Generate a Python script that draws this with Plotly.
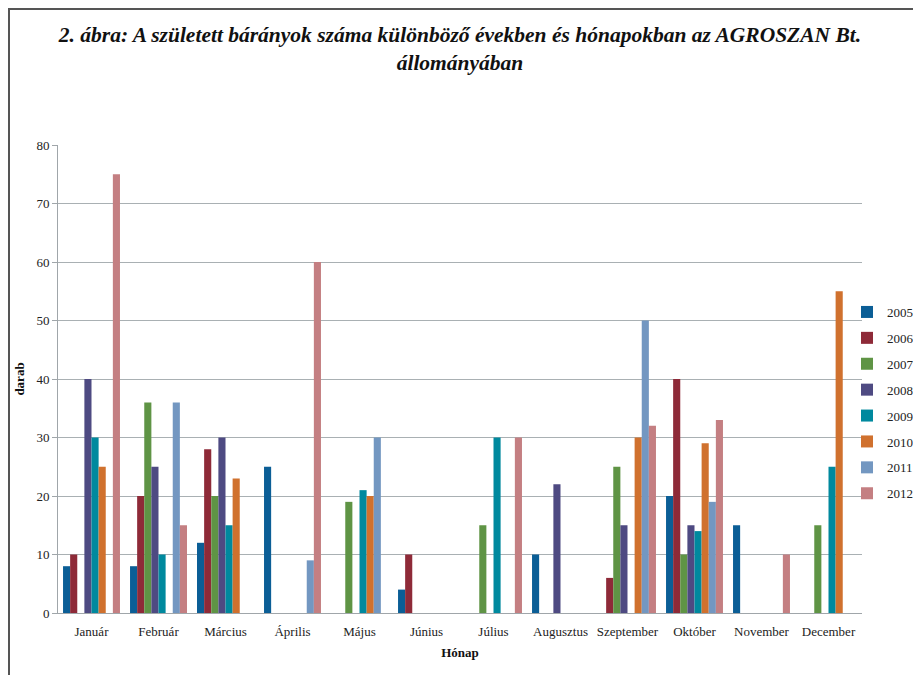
import plotly.graph_objects as go

months = ["Január", "Február", "Március", "Április", "Május", "Június",
          "Július", "Augusztus", "Szeptember", "Október", "November", "December"]
years = ["2005", "2006", "2007", "2008", "2009", "2010", "2011", "2012"]

v2005 = [8, 8, 12, 25, None, 4, None, 10, None, 20, 15, None]
v2006 = [10, 20, 28, None, None, 10, None, None, 6, 40, None, None]
v2007 = [None, 36, 20, None, 19, None, 15, None, 25, 10, None, 15]
v2008 = [40, 25, 30, None, None, None, None, 22, 15, 15, None, None]
v2009 = [30, 10, 15, None, 21, None, 30, None, None, 14, None, 25]
v2010 = [25, None, 23, None, 20, None, None, None, 30, 29, None, 55]
v2011 = [None, 36, None, 9, 30, None, None, None, 50, 19, None, None]
v2012 = [75, 15, None, 60, None, None, 30, None, 32, 33, 10, None]

series = [v2005, v2006, v2007, v2008, v2009, v2010, v2011, v2012]
colors = ["#0B5E96", "#8E2A38", "#5F9445", "#4E4A82", "#00899E", "#D0712E", "#7397C1", "#C47F82"]

yticks = [0, 10, 20, 30, 40, 50, 60, 70, 80]

FONT = "Liberation Serif"

fig = go.Figure()
for name, vals, col in zip(years, series, colors):
    fig.add_trace(go.Bar(name=name, x=months, y=vals, marker=dict(color=col, line=dict(width=0)),
                         legendgroup=name))

# page is offset by the 8px body margin; figure coords = page coords - 8
OFF = 8
W, H = 921 - OFF, 675 - OFF
L, T = 58 - OFF, 145 - OFF
R = W - (862 - OFF)
B = H - (613 - OFF)
pw, ph = W - L - R, H - T - B

def px(x):
    return (x - L) / pw

def py(y):
    return (H - B - y) / ph

fig.update_layout(
    width=W, height=H,
    margin=dict(l=L, r=R, t=T, b=B, autoexpand=False),
    paper_bgcolor="white", plot_bgcolor="white",
    barmode="group", bargap=0.15, bargroupgap=0,
    font=dict(family=FONT, color="#222222", size=13),
    title=dict(text="<b><i>2. ábra: A született bárányok száma különböző években és hónapokban az AGROSZAN Bt.<br>állományában</i></b>",
               x=0.5, xref="paper", xanchor="center", y=1 - 34 / H, yanchor="middle",
               font=dict(family=FONT, size=21.5, color="#111111")),
    xaxis=dict(showgrid=False, showline=True, linecolor="#A0A6AA", linewidth=1,
               ticks="", ticklabelstandoff=6, tickfont=dict(family=FONT, size=13, color="#222222"),
               title=dict(text="<b>Hónap</b>", font=dict(family=FONT, size=13, color="#111111"), standoff=10)),
    yaxis=dict(range=[0, 80], tickvals=yticks, showgrid=True, gridcolor="#A9B0B3", gridwidth=1,
               showline=True, linecolor="#A0A6AA", linewidth=1, zeroline=False,
               ticks="outside", ticklen=5, tickcolor="#A0A6AA",
               tickfont=dict(family=FONT, size=13, color="#222222"),
               title=dict(text="<b>darab</b>", font=dict(family=FONT, size=13, color="#111111"), standoff=8)),
    legend=dict(x=px(847 - OFF), xanchor="left", y=py(297 - OFF), yanchor="top",
                font=dict(family=FONT, size=13, color="#222222"),
                traceorder="grouped", tracegroupgap=6, itemwidth=30,
                bgcolor="rgba(0,0,0,0)"),
    showlegend=True,
)

fig.add_shape(type="line", xref="paper", yref="paper", x0=px(1), x1=px(1), y0=py(1), y1=py(H + 5),
              line=dict(color="#555555", width=2))
fig.add_shape(type="line", xref="paper", yref="paper", x0=px(0), x1=px(W + 5), y0=py(1), y1=py(1),
              line=dict(color="#555555", width=2))

fig.write_html("out.html")
